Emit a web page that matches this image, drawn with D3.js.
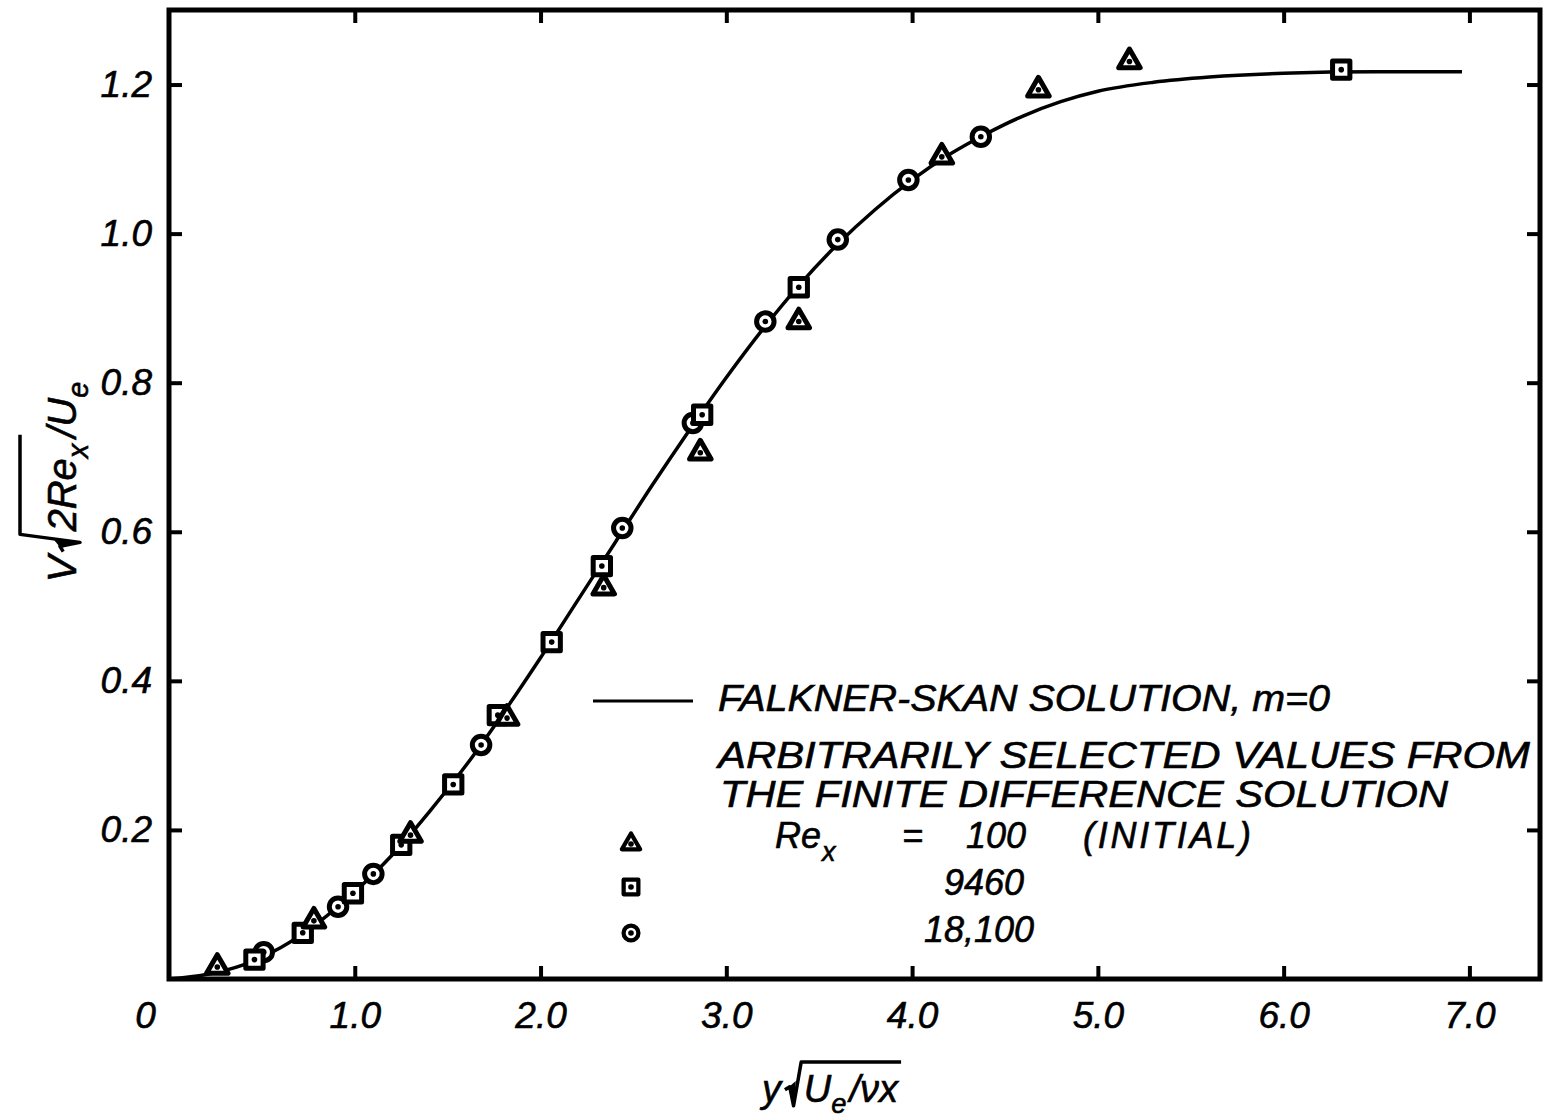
<!doctype html>
<html lang="en">
<head>
  <meta charset="utf-8">
  <title>Falkner-Skan normal velocity</title>
  <style>
    * { margin: 0; padding: 0; box-sizing: border-box; }
    body { background: #fff; }
    #container { width: 1545px; height: 1118px; }
    svg text { font-family: "Liberation Sans", Arial, sans-serif; font-style: italic; fill: #000;
      stroke: #000; stroke-width: 0.6px; }
  </style>
</head>
<body>
  <div id="container"></div>
  <script src="https://cdn.jsdelivr.net/npm/d3@7"></script>
  <script>
    // axis ticks
    const xTicks = [0, 1, 2, 3, 4, 5, 6, 7];
    const xTickLabels = ['0', '1.0', '2.0', '3.0', '4.0', '5.0', '6.0', '7.0'];
    const yTicks = [0.2, 0.4, 0.6, 0.8, 1.0, 1.2];
    const yTickLabels = ['0.2', '0.4', '0.6', '0.8', '1.0', '1.2'];

    // Falkner-Skan (m=0) curve
    const curveEta = [0, 0.2, 0.4, 0.6, 0.8, 1.0, 1.2, 1.4, 1.6, 1.8, 2.0, 2.2, 2.4, 2.6, 2.8, 3.0,
      3.2, 3.4, 3.6, 3.8, 4.0, 4.2, 4.4, 4.6, 4.8, 5.0, 5.3, 5.6, 6.0, 6.5, 6.96];
    const curveV = [0, 0.006, 0.019, 0.042, 0.075, 0.117, 0.166, 0.224, 0.287, 0.357, 0.431, 0.508,
      0.585, 0.662, 0.736, 0.807, 0.873, 0.933, 0.986, 1.032, 1.072, 1.106, 1.134, 1.158, 1.177,
      1.191, 1.203, 1.210, 1.215, 1.217, 1.217];

    // finite difference points
    const triEta = [0.26, 0.78, 1.30, 1.82, 2.34, 2.86, 3.39, 4.16, 4.68, 5.17];
    const triV = [0.016, 0.078, 0.193, 0.350, 0.525, 0.706, 0.882, 1.103, 1.193, 1.231];
    const sqEta = [0.46, 0.72, 0.99, 1.25, 1.53, 1.77, 2.06, 2.33, 2.87, 3.39, 6.31];
    const sqV = [0.026, 0.062, 0.115, 0.180, 0.261, 0.354, 0.452, 0.554, 0.757, 0.928, 1.220];
    const cirEta = [0.51, 0.91, 1.10, 1.68, 2.44, 2.82, 3.21, 3.60, 3.98, 4.37];
    const cirV = [0.036, 0.097, 0.141, 0.314, 0.605, 0.746, 0.882, 0.992, 1.072, 1.130];

    const legendLines = ['FALKNER-SKAN SOLUTION, m=0', 'ARBITRARILY SELECTED VALUES FROM',
      'THE FINITE DIFFERENCE SOLUTION'];
    const reValues = ['100', '9460', '18,100'];

    const W = 1545, H = 1118;
    const svg = d3.select('#container').append('svg').attr('width', W).attr('height', H);

    const x = d3.scaleLinear().domain([0, 7.38]).range([169, 1540]);
    const y = d3.scaleLinear().domain([0, 1.3]).range([979, 10]);

    // frame
    svg.append('rect')
      .attr('x', x(0)).attr('y', y(1.3))
      .attr('width', x(7.38) - x(0)).attr('height', y(0) - y(1.3))
      .attr('fill', 'none').attr('stroke', '#000').attr('stroke-width', 5);

    const tickStyle = g => {
      g.select('.domain').remove();
      g.selectAll('.tick line').attr('stroke', '#000').attr('stroke-width', 4);
      g.selectAll('.tick text').style('font-size', '37px').attr('fill', '#000');
    };

    const gx = svg.append('g').attr('transform', `translate(0,${y(0)})`)
      .call(d3.axisBottom(x).tickValues(xTicks).tickSize(-13).tickPadding(23)
        .tickFormat((d, i) => xTickLabels[i]))
      .call(tickStyle);
    gx.selectAll('.tick').filter(d => d === 0).select('line').remove();
    gx.selectAll('.tick').filter(d => d === 0).select('text').attr('x', -24);

    svg.append('g').attr('transform', `translate(0,${y(1.3)})`)
      .call(d3.axisTop(x).tickValues(xTicks.slice(1)).tickSize(-13).tickFormat(''))
      .call(tickStyle);

    svg.append('g').attr('transform', `translate(${x(0)},0)`)
      .call(d3.axisLeft(y).tickValues(yTicks).tickSize(-13).tickPadding(17)
        .tickFormat((d, i) => yTickLabels[i]))
      .call(tickStyle);

    svg.append('g').attr('transform', `translate(${x(7.38)},0)`)
      .call(d3.axisRight(y).tickValues(yTicks).tickSize(-13).tickFormat(''))
      .call(tickStyle);

    // curve
    const line = d3.line().x(d => x(d[0])).y(d => y(d[1])).curve(d3.curveMonotoneX);
    svg.append('path')
      .datum(curveEta.map((e, i) => [e, curveV[i]]))
      .attr('d', line)
      .attr('fill', 'none').attr('stroke', '#000').attr('stroke-width', 3.5);

    // markers
    const symbols = {
      tri: d3.symbol(d3.symbolTriangle, 200),
      sq: d3.symbol(d3.symbolSquare, 300),
      cir: d3.symbol(d3.symbolCircle, 240)
    };
    function drawMarker(g, type, scale) {
      g.append('path').attr('d', symbols[type]())
        .attr('transform', scale ? `scale(${scale})` : null)
        .attr('fill', '#fff').attr('stroke', '#000').attr('stroke-width', 5)
        .attr('stroke-linejoin', 'round');
      g.append('circle').attr('r', 2.8).attr('fill', '#000');
    }
    function series(etas, vals, type) {
      svg.append('g').selectAll('g')
        .data(etas.map((e, i) => [e, vals[i]]))
        .join('g')
        .attr('transform', d => `translate(${x(d[0])},${y(d[1])})`)
        .each(function () { drawMarker(d3.select(this), type); });
    }
    series(cirEta, cirV, 'cir');
    series(sqEta, sqV, 'sq');
    series(triEta, triV, 'tri');

    // legend
    const lg = svg.append('g');
    lg.append('line').attr('x1', 593).attr('x2', 693).attr('y1', 701).attr('y2', 701)
      .attr('stroke', '#000').attr('stroke-width', 3);
    const lineSpec = [[718, 711, 612], [718, 768, 812], [720, 807, 728]];
    legendLines.forEach((t, i) => {
      lg.append('text').attr('x', lineSpec[i][0]).attr('y', lineSpec[i][1])
        .attr('textLength', lineSpec[i][2]).attr('lengthAdjust', 'spacingAndGlyphs')
        .style('font-size', '36px').text(t);
    });
    lg.append('text').attr('x', 775).attr('y', 848).style('font-size', '36px').text('Re');
    lg.append('text').attr('x', 822).attr('y', 861).style('font-size', '27px').text('x');
    lg.append('text').attr('x', 902).attr('y', 848).style('font-size', '36px').text('=');
    lg.append('text').attr('x', 966).attr('y', 848).style('font-size', '36px').text(reValues[0]);
    lg.append('text').attr('x', 1083).attr('y', 848).attr('textLength', 168)
      .style('font-size', '36px').text('(INITIAL)');
    lg.append('text').attr('x', 944).attr('y', 895).style('font-size', '36px').text(reValues[1]);
    lg.append('text').attr('x', 924).attr('y', 942).style('font-size', '36px').text(reValues[2]);
    [['tri', 844], ['sq', 887], ['cir', 933]].forEach(([t, yy]) => {
      drawMarker(lg.append('g').attr('transform', `translate(631,${yy})`), t, 0.85);
    });

    // axis titles with a radical sign
    function radicalLabel(g, parts, size, rise) {
      let cx = 0, r0 = 0, r1 = 0;
      parts.forEach(p => {
        if (p.root === 'open') { r0 = cx; cx += size * 0.55; return; }
        if (p.root === 'close') { r1 = cx + 3; return; }
        const t = g.append('text').attr('x', cx).attr('y', p.sub ? size * 0.3 : 0)
          .style('font-size', (p.sub ? size * 0.72 : size) + 'px').text(p.t);
        cx += t.node().getComputedTextLength() + (p.gap || 0);
      });
      const top = -size * rise;
      g.append('path')
        .attr('d', `M${r0 + 2},${-size * 0.32} L${r0 + size * 0.18},${-size * 0.4} L${r0 + size * 0.28},${size * 0.1} L${r0 + size * 0.48},${top} L${r1},${top}`)
        .attr('fill', 'none').attr('stroke', '#000').attr('stroke-width', 3.5)
        .attr('stroke-linejoin', 'round');
      g.append('path')
        .attr('d', `M${r0 + size * 0.14},${-size * 0.38} L${r0 + size * 0.34},${-size * 0.55} L${r0 + size * 0.28},${size * 0.1}Z`)
        .attr('fill', '#000');
      return cx;
    }

    const xl = svg.append('g');
    const xw = radicalLabel(xl, [{ t: 'y', gap: 2 }, { root: 'open' }, { t: 'U' }, { t: 'e', sub: true, gap: 3 },
      { t: '/νx' }, { root: 'close' }], 38, 1.05);
    xl.attr('transform', `translate(${830 - xw / 2},1102)`);

    const yl = svg.append('g');
    const yw = radicalLabel(yl, [{ t: 'V', gap: 2 }, { root: 'open' }, { t: '2Re' }, { t: 'x', sub: true, gap: 6 },
      { root: 'close' }, { t: ' /U' }, { t: 'e', sub: true }], 40, 1.4);
    yl.attr('transform', `translate(76,482) rotate(-90) translate(${-yw / 2},0)`);
  </script>
</body>
</html>
